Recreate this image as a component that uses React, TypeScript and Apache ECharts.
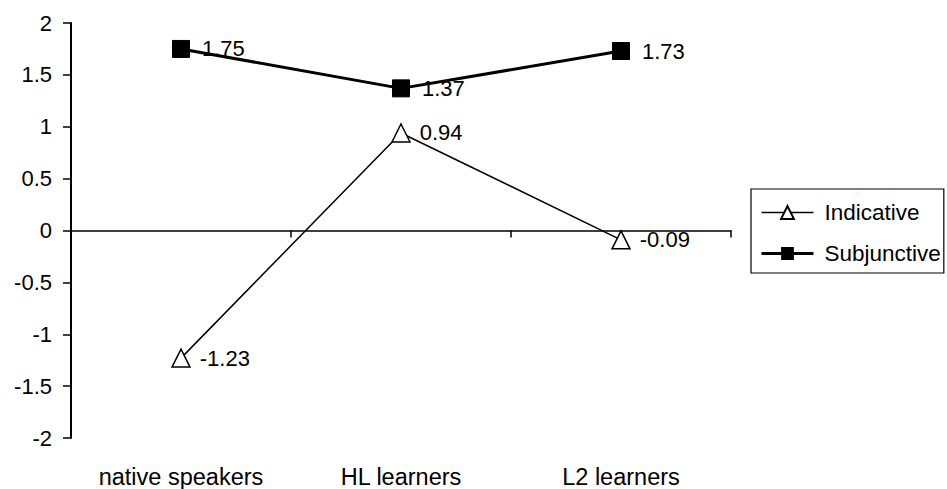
import React, { useEffect, useRef } from "react";
import * as echarts from "echarts";

const categories = ["native speakers", "HL learners", "L2 learners"];
const indicative = [-1.23, 0.94, -0.09];
const subjunctive = [1.75, 1.37, 1.73];
const seriesNames = ["Indicative", "Subjunctive"];

const FONT = "'Liberation Sans', Arial, sans-serif";

export default function App() {
  const ref = useRef<HTMLDivElement>(null);
  useEffect(() => {
    if (!ref.current) return;
    const chart = echarts.init(ref.current, undefined, { renderer: "svg" });
    chart.setOption({
      animation: false,
      backgroundColor: "#fff",
      textStyle: { fontFamily: FONT, color: "#000" },
      grid: { left: 71, right: 216, top: 23, bottom: 49, containLabel: false },
      legend: {
        orient: "vertical",
        left: 751,
        top: 189,
        data: [
          { name: seriesNames[0], lineStyle: { width: 1.5, color: "#000" } },
          { name: seriesNames[1], lineStyle: { width: 3, color: "#000" } },
        ],
        itemWidth: 52,
        itemHeight: 16,
        itemGap: 18,
        padding: [12, 3, 8, 9],
        borderColor: "#000",
        borderWidth: 1.2,
        textStyle: { fontFamily: FONT, fontSize: 22.5, color: "#000", lineHeight: 22, padding: [0, 0, 0, 6] },
      },
      xAxis: [
        {
          type: "category",
          data: categories,
          position: "bottom",
          boundaryGap: true,
          axisLine: { onZero: true, lineStyle: { color: "#000", width: 1.5 } },
          axisTick: { show: true, length: 7, lineStyle: { color: "#000", width: 1.5 } },
          axisLabel: { show: false },
          splitLine: { show: false },
        },
        {
          type: "category",
          data: categories,
          position: "bottom",
          boundaryGap: true,
          axisLine: { show: false, onZero: false },
          axisTick: { show: false },
          axisLabel: { show: true, margin: 27, fontSize: 23.5, color: "#000", fontFamily: FONT },
          splitLine: { show: false },
        },
      ],
      yAxis: {
        type: "value",
        min: -2,
        max: 2,
        interval: 0.5,
        axisLine: { show: true, lineStyle: { color: "#000", width: 2 } },
        axisTick: { show: true, length: 8, lineStyle: { color: "#000", width: 1.5 } },
        axisLabel: { margin: 19, fontSize: 22, color: "#000", fontFamily: FONT, padding: [5, 0, 0, 0] },
        splitLine: { show: false },
      },
      series: [
        {
          name: seriesNames[0],
          type: "line",
          xAxisIndex: 0,
          data: indicative,
          symbol: "triangle",
          symbolSize: 18,
          z: 2,
          color: "#000",
          lineStyle: { color: "#000", width: 1.5 },
          itemStyle: { color: "#fff", borderColor: "#000", borderWidth: 1.5 },
          label: { show: true, position: "right", distance: 9, fontSize: 22, color: "#000", fontFamily: FONT },
        },
        {
          name: seriesNames[1],
          type: "line",
          xAxisIndex: 0,
          data: subjunctive,
          symbol: "rect",
          symbolSize: 17,
          z: 3,
          color: "#000",
          lineStyle: { color: "#000", width: 3 },
          itemStyle: { color: "#000", borderColor: "#000" },
          label: { show: true, position: "right", distance: 12, fontSize: 22, color: "#000", fontFamily: FONT },
        },
      ],
    });
    return () => chart.dispose();
  }, []);
  return <div ref={ref} style={{ width: 947, height: 489, position: "absolute", left: 0, top: 0 }} />;
}
